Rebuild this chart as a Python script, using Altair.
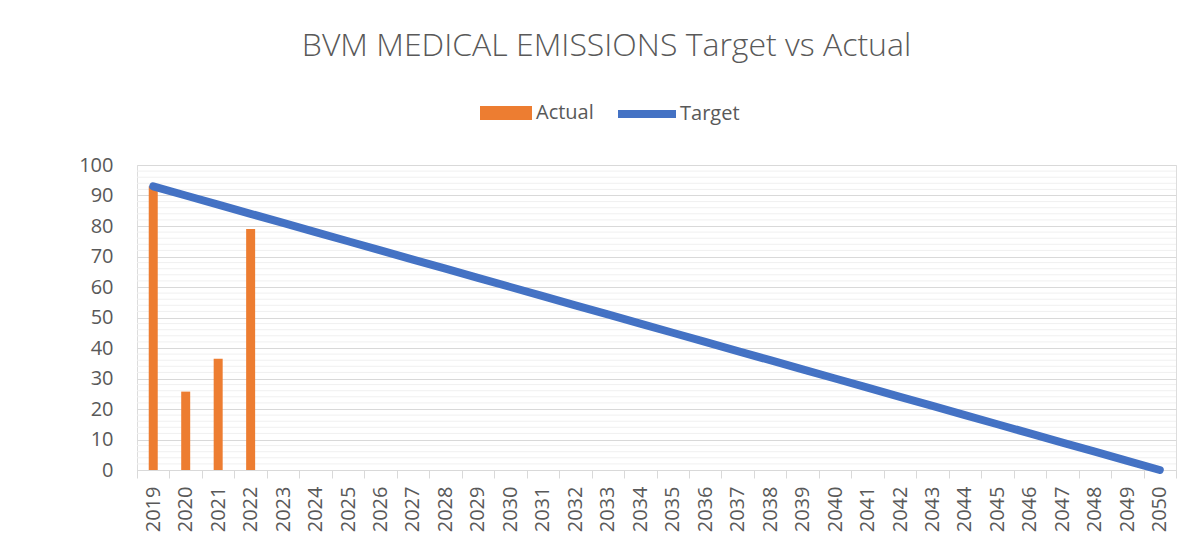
import altair as alt
import pandas as pd

years = [str(y) for y in range(2019, 2051)]
actual_years = ["2019", "2020", "2021", "2022"]
actual_values = [93, 25.7, 36.5, 79]
target_values = [93, 90, 87, 84, 81, 78, 75, 72, 69, 66, 63, 60, 57, 54, 51, 48,
                 45, 42, 39, 36, 33, 30, 27, 24, 21, 18, 15, 12, 9, 6, 3, 0]
minor_grid = [2, 4, 6, 8, 12, 14, 16, 18, 22, 24, 26, 28, 32, 34, 36, 38,
              42, 44, 46, 48, 52, 54, 56, 58, 62, 64, 66, 68, 72, 74, 76, 78,
              82, 84, 86, 88, 92, 94, 96, 98]
major_ticks = [0, 10, 20, 30, 40, 50, 60, 70, 80, 90, 100]

FONT = "Open Sans"
GREY = "#595959"

df_actual = pd.DataFrame({"year": actual_years, "value": actual_values, "series": "Actual"})
df_target = pd.DataFrame({"year": years, "value": target_values, "series": "Target"})
df_grid = pd.DataFrame({"g": minor_grid})

x_axis = alt.Axis(title=None, labelAngle=270, labelFont=FONT, labelFontSize=20,
                  labelColor=GREY, domainColor="#d9d9d9", tickColor="#d9d9d9",
                  tickSize=8, tickBand="extent", labelPadding=8, grid=False,
                  labelOverlap=False)
x_scale = alt.Scale(domain=years, paddingInner=0, paddingOuter=0)
y_axis = alt.Axis(title=None, values=major_ticks, labelOverlap=False,
                  labelFont=FONT, labelFontSize=20, labelColor=GREY,
                  domain=False, ticks=False, tickSize=0, labelPadding=24,
                  grid=True, gridColor="#d9d9d9", gridWidth=1)
y_scale = alt.Scale(domain=[0, 100], nice=False)

grid = alt.Chart(df_grid).mark_rule(color="#f0f0f0", strokeWidth=1).encode(
    y=alt.Y("g:Q", scale=y_scale, axis=y_axis)
)

bars = alt.Chart(df_actual).mark_bar(size=9).encode(
    x=alt.X("year:N", scale=x_scale, axis=x_axis),
    y=alt.Y("value:Q", scale=y_scale, axis=y_axis),
    fill=alt.Fill("series:N", scale=alt.Scale(domain=["Actual"], range=["#ED7D31"]),
                  legend=alt.Legend(title=None, orient="none", legendX=343, legendY=-78,
                                    symbolType="M-1,-0.27H1V0.27H-1Z", symbolSize=2704,
                                    labelFont=FONT, labelFontSize=20, labelColor=GREY,
                                    labelOffset=4, padding=0, symbolStrokeWidth=0)),
)

line = alt.Chart(df_target).mark_line(strokeWidth=8, strokeCap="round").encode(
    x=alt.X("year:N", scale=x_scale, axis=x_axis),
    y=alt.Y("value:Q", scale=y_scale, axis=y_axis),
    stroke=alt.Stroke("series:N", scale=alt.Scale(domain=["Target"], range=["#4472C4"]),
                      legend=alt.Legend(title=None, orient="none", legendX=477, legendY=-84,
                                        symbolType="stroke", symbolSize=3364,
                                        symbolStrokeWidth=8,
                                        labelFont=FONT, labelFontSize=20, labelColor=GREY,
                                        labelOffset=0, padding=0)),
)

chart = alt.layer(grid, bars, line).properties(
    width=1039, height=305,
    autosize=alt.AutoSizeParams(type="none"),
    padding={"left": 129, "top": 157, "right": 19, "bottom": 69},
    title=alt.Title("BVM MEDICAL EMISSIONS Target vs Actual", font=FONT, fontSize=32,
                    fontWeight=300, color=GREY, anchor="middle", frame="group",
                    dx=-50, offset=18),
).configure_view(strokeWidth=0).configure(background="white")

chart.save("out.html", embed_options={"renderer": "svg", "actions": False})
